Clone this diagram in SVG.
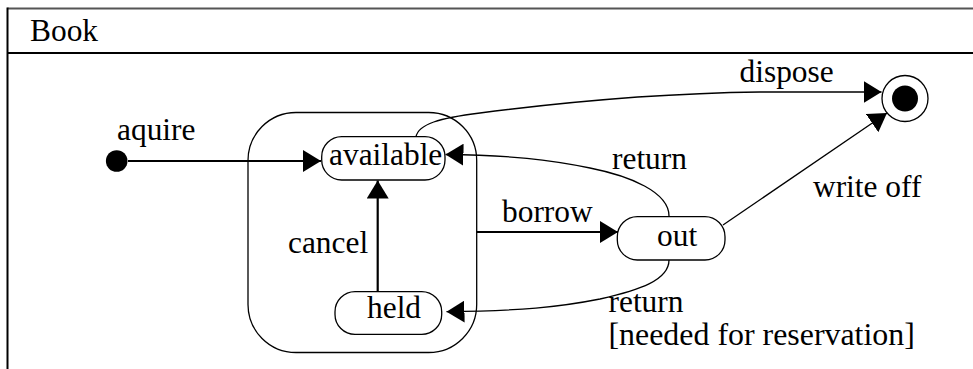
<svg xmlns="http://www.w3.org/2000/svg" width="973" height="369" viewBox="0 0 973 369">
<style>
  text { font-family: 'Liberation Serif', 'Times New Roman', serif; font-size: 31.4px; fill: #000; }
  .state { fill: #fff; stroke: #000; stroke-width: 1.3; }
  .thick { fill: none; stroke: #000; stroke-width: 2.2; }
  .thin { fill: none; stroke: #000; stroke-width: 1.3; }
</style>
<defs>
  <marker id="arr" markerUnits="userSpaceOnUse" markerWidth="18" markerHeight="22" refX="18" refY="11" orient="auto" viewBox="0 0 18 22">
    <path d="M0,0 L18,11 L0,22 z" fill="#000"/>
  </marker>
</defs>
<rect x="0" y="0" width="973" height="369" fill="#fff"/>
<g id="frame">
  <line x1="7.5" y1="8.5" x2="973" y2="8.5" stroke="#555" stroke-width="2"/>
  <line x1="7.5" y1="53" x2="973" y2="53" stroke="#000" stroke-width="2"/>
  <line x1="7.5" y1="7.5" x2="7.5" y2="369" stroke="#000" stroke-width="2"/>
  <text x="30" y="41">Book</text>
</g>
<g id="composite">
  <rect x="248" y="112.5" width="228.7" height="240" rx="48" ry="48" class="state"/>
</g>
<g id="initial">
  <circle cx="116.7" cy="161" r="10.8" fill="#000"/>
</g>
<g id="final">
  <circle cx="905" cy="98.5" r="23" fill="#fff" stroke="#000" stroke-width="1.3"/>
  <circle cx="905" cy="98.5" r="13" fill="#000"/>
</g>
<g id="available">
  <rect x="321.7" y="136.7" width="123.3" height="43.3" rx="20" ry="20" class="state"/>
  <text x="329" y="164.5">available</text>
</g>
<g id="held">
  <rect x="335" y="291.7" width="106.7" height="42.7" rx="20" ry="20" class="state"/>
  <text x="367" y="318">held</text>
</g>
<g id="out">
  <rect x="617.3" y="216.7" width="107.7" height="43.3" rx="20" ry="20" class="state"/>
  <text x="657" y="245.5">out</text>
</g>
<g id="connectors">
  <line x1="128" y1="161" x2="321" y2="161" class="thick" marker-end="url(#arr)"/>
  <line x1="377.7" y1="291.7" x2="377.7" y2="180.5" class="thick" marker-end="url(#arr)"/>
  <line x1="476.7" y1="232" x2="618" y2="232" class="thick" marker-end="url(#arr)"/>
  <path d="M416,137 C418,124 440,118 480,113 C580,100 680,93 760,92 L881.5,92" class="thin" marker-end="url(#arr)"/>
  <path d="M669,216 C669,192 630,176 590,168 C550,160 510,155 445.5,154.5" class="thin" marker-end="url(#arr)"/>
  <path d="M669,260 C669,280 640,290 600,299 C560,307 520,311 446.5,311.7" class="thin" marker-end="url(#arr)"/>
  <line x1="723" y1="225" x2="887" y2="113" class="thin" marker-end="url(#arr)"/>
  <text x="117" y="139.5">aquire</text>
  <text x="288" y="253">cancel</text>
  <text x="502" y="222">borrow</text>
  <text x="739.5" y="81.5">dispose</text>
  <text x="612" y="168.5">return</text>
  <text x="813" y="197">write off</text>
  <text x="608.5" y="312">return</text>
  <text x="608.5" y="344.5" style="font-size:31.9px">[needed for reservation]</text>
</g>
</svg>
